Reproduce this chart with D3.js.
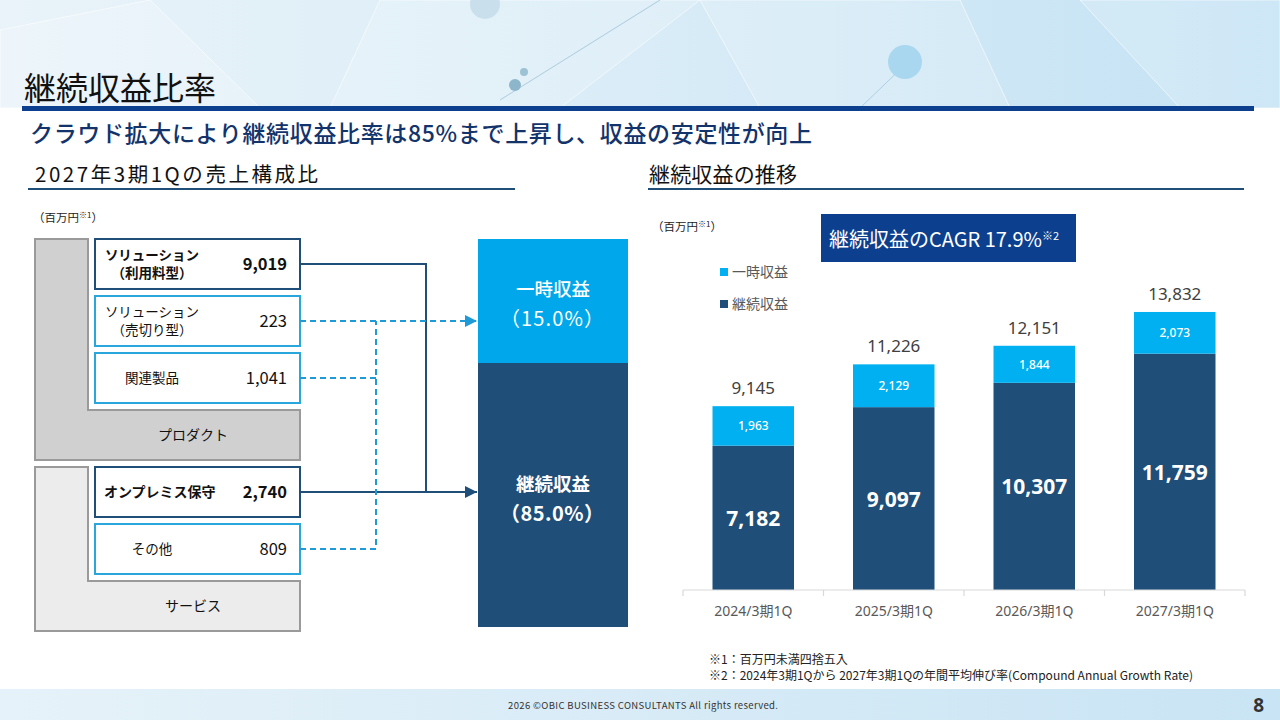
<!DOCTYPE html>
<html><head><meta charset="utf-8">
<script src="https://cdn.jsdelivr.net/npm/d3@7"></script>
<style>
html,body{margin:0;padding:0;background:#fff;}
svg{display:block;font-family:"Noto Sans CJK JP","Noto Sans",sans-serif;}
</style></head>
<body>
<script>
// ---------- DATA ----------
const pageTitle = "継続収益比率";
const subTitle = "クラウド拡大により継続収益比率は85%まで上昇し、収益の安定性が向上";
const leftTitle = "2027年3期1Qの売上構成比";
const rightTitle = "継続収益の推移";
const unitLabel = "（百万円";
const unitNote = "※1";

const itemLabels = [["ソリューション","（利用料型）"],["ソリューション","（売切り型）"],["関連製品"],["オンプレミス保守"],["その他"]];
const itemValues = [9019, 223, 1041, 2740, 809];
const itemTypes  = ["継続","一時","一時","継続","一時"];
const itemRows   = [0, 1, 2, 4, 5];
const groupNames = ["プロダクト","サービス"];
const groupRows  = [3, 6];

const mixNames = ["継続収益","一時収益"];
const mixShares = [85.0, 15.0];

const categories = ["2024/3期1Q","2025/3期1Q","2026/3期1Q","2027/3期1Q"];
const recurring = [7182, 9097, 10307, 11759];
const oneTime   = [1963, 2129, 1844, 2073];
const seriesNames = ["一時収益","継続収益"];
const cagrText = "継続収益のCAGR 17.9%";
const footnotes = ["※1：百万円未満四捨五入","※2：2024年3期1Qから 2027年3期1Qの年間平均伸び率(Compound Annual Growth Rate)"];
const copyright = "2026  ©OBIC BUSINESS CONSULTANTS All rights reserved.";
const pageNo = "8";

// ---------- SETUP ----------
const W = 1280, H = 720;
const DARK = "#1f4e79", LIGHT = "#00a7ea", LIGHT2 = "#00b0f0", NAVY = "#0c3f8e";
const fmt = d3.format(",");
const svg = d3.select("body").append("svg").attr("width", W).attr("height", H);
const defs = svg.append("defs");

// header background
const hg = defs.append("linearGradient").attr("id","hg").attr("x1","0").attr("x2","1").attr("y1","0").attr("y2","0");
hg.append("stop").attr("offset","0").attr("stop-color","#e9f3f9");
hg.append("stop").attr("offset","0.5").attr("stop-color","#d9ecf7");
hg.append("stop").attr("offset","1").attr("stop-color","#c4e2f4");
svg.append("rect").attr("x",0).attr("y",0).attr("width",W).attr("height",108).attr("fill","url(#hg)");
const polys = [
  [[380,0],[700,0],[560,108],[330,108]],
  [[700,0],[960,0],[1010,108],[760,108]],
  [[1080,0],[1280,0],[1280,108],[1180,108]],
  [[0,30],[150,0],[260,108],[0,108]]
];
svg.append("g").selectAll("path").data(polys).join("path")
  .attr("d", d => "M" + d.join("L") + "Z")
  .attr("fill","#ffffff").attr("fill-opacity",0.18)
  .attr("stroke","#ffffff").attr("stroke-opacity",0.6).attr("stroke-width",1);
svg.append("line").attr("x1",500).attr("y1",100).attr("x2",660).attr("y2",0).attr("stroke","#9fc3d6").attr("stroke-width",0.8);
svg.append("line").attr("x1",860).attr("y1",108).attr("x2",910).attr("y2",60).attr("stroke","#9fc8e0").attr("stroke-width",0.8);
const circles = [[905,62,17,"#a9d7f0"],[515,85,6,"#8db6ca"],[524,72,4,"#9cc2d4"],[485,4,15,"#c9e0ec"],[655,25,5,"#e0eef6"]];
svg.append("g").selectAll("circle").data(circles).join("circle")
  .attr("cx",d=>d[0]).attr("cy",d=>d[1]).attr("r",d=>d[2]).attr("fill",d=>d[3]);

// title
svg.append("text").attr("x",24).attr("y",100).attr("font-size",32).attr("fill","#111").text(pageTitle);
svg.append("rect").attr("x",22).attr("y",106).attr("width",1232).attr("height",5).attr("fill",NAVY);
svg.append("text").attr("x",30).attr("y",142).attr("font-size",23).attr("font-weight",500).attr("fill","#13336b")
  .attr("textLength",782).attr("lengthAdjust","spacing").text(subTitle);

// section titles
svg.append("text").attr("x",35).attr("y",182).attr("font-size",20.5).attr("fill","#111")
  .attr("textLength",283).attr("lengthAdjust","spacing").text(leftTitle);
svg.append("rect").attr("x",28).attr("y",188).attr("width",487).attr("height",2).attr("fill",DARK);
svg.append("text").attr("x",649).attr("y",182).attr("font-size",21).attr("fill","#111")
  .attr("textLength",148).attr("lengthAdjust","spacing").text(rightTitle);
svg.append("rect").attr("x",648).attr("y",188).attr("width",596).attr("height",2).attr("fill",DARK);

function unit(x, y) {
  const t = svg.append("text").attr("x",x).attr("y",y).attr("font-size",11.5).attr("fill","#222");
  t.append("tspan").text(unitLabel);
  t.append("tspan").attr("font-size",8).attr("dy",-4).text(unitNote);
  t.append("tspan").attr("dy",4).text("）");
}

// ---------- LEFT DIAGRAM ----------
unit(33, 222);
const rowY = d3.scaleBand().domain(d3.range(7)).range([239, 631]).paddingInner(0.123).paddingOuter(0);
const bx0 = 95, bx1 = 300, lx0 = 35, lx1 = 88;
const gTop = [rowY(0), rowY(4)];
const gFill = ["#d0d0d0", "#ececec"];
groupNames.forEach((g, i) => {
  const top = gTop[i], bot = rowY(groupRows[i]) + rowY.bandwidth(), mid = rowY(groupRows[i]);
  svg.append("path")
    .attr("d", `M${lx0},${top}H${lx1}V${mid}H${bx1}V${bot}H${lx0}Z`)
    .attr("fill", gFill[i]).attr("stroke","#9a9a9a").attr("stroke-width",2);
  svg.append("text").attr("x",193).attr("y",mid + rowY.bandwidth()/2 + 5)
    .attr("text-anchor","middle").attr("font-size",14).attr("fill","#111").text(g);
});
itemLabels.forEach((lab, i) => {
  const y = rowY(itemRows[i]), h = rowY.bandwidth();
  const rec = itemTypes[i] === "継続";
  svg.append("rect").attr("x",bx0).attr("y",y).attr("width",bx1-bx0).attr("height",h)
    .attr("fill","#fff").attr("stroke", rec ? DARK : "#29a7dd").attr("stroke-width",2);
  const bold = rec ? 700 : 400;
  const long = lab[0].length > 7;
  lab.forEach((t, k) => {
    svg.append("text")
      .attr("x", long ? 104 : 152).attr("text-anchor", long ? "start" : "middle")
      .attr("y", y + h/2 + 5 + (lab.length > 1 ? (k === 0 ? -9 : 9) : 0))
      .attr("font-size", long ? 14 : 13.5).attr("font-weight",bold).attr("fill","#111").text(t);
  });
  svg.append("text").attr("x",287).attr("y",y + h/2 + 6).attr("text-anchor","end")
    .attr("font-family","'Noto Sans CJK JP',sans-serif")
    .attr("font-size",16.5).attr("font-weight",bold).attr("fill","#111").text(fmt(itemValues[i]));
});

// mix stacked block
const mixY = d3.scaleLinear().domain([0, 85, 100]).range([627, 363, 239]);
const mx0 = 478, mx1 = 628;
let acc = 0;
const mixSegs = mixShares.map((v, i) => { const s = {name: mixNames[i], v, y0: acc, y1: acc + v}; acc += v; return s; });
svg.append("g").selectAll("rect").data(mixSegs).join("rect")
  .attr("x", mx0).attr("width", mx1 - mx0)
  .attr("y", d => mixY(d.y1)).attr("height", d => mixY(d.y0) - mixY(d.y1))
  .attr("fill", (d,i) => i === 0 ? DARK : LIGHT);
mixSegs.forEach((d, i) => {
  const cy = i === 0 ? 485 : 290;
  svg.append("text").attr("x",(mx0+mx1)/2).attr("y",cy + 6).attr("text-anchor","middle")
    .attr("font-size",18.5).attr("font-weight", i===0?700:500).attr("fill","#fff").text(d.name);
  svg.append("text").attr("x",(mx0+mx1)/2 - 1).attr("y",cy + 36).attr("text-anchor","middle")
    .attr("font-size",20).attr("font-weight", i===0?600:400).attr("fill","#fff")
    .attr("textLength",104).attr("lengthAdjust","spacing").text("（" + d.v.toFixed(1) + "%）");
});

// connectors
const cy = i => rowY(itemRows[i]) + rowY.bandwidth()/2;
defs.append("marker").attr("id","arD").attr("viewBox","0 0 10 10").attr("refX",10).attr("refY",5)
  .attr("markerWidth",12).attr("markerHeight",12).attr("markerUnits","userSpaceOnUse").attr("orient","auto")
  .append("path").attr("d","M0,0L10,5L0,10Z").attr("fill",DARK);
defs.append("marker").attr("id","arL").attr("viewBox","0 0 10 10").attr("refX",10).attr("refY",5)
  .attr("markerWidth",12).attr("markerHeight",12).attr("markerUnits","userSpaceOnUse").attr("orient","auto")
  .append("path").attr("d","M0,0L10,5L0,10Z").attr("fill","#1e9bd7");
const solidX = 426, dashX = 376;
svg.append("path").attr("d",`M${bx1},${cy(0)}H${solidX}V${cy(3)}`).attr("fill","none").attr("stroke",DARK).attr("stroke-width",2);
svg.append("path").attr("d",`M${bx1},${cy(3)}H${mx0-1}`).attr("fill","none").attr("stroke",DARK).attr("stroke-width",2).attr("marker-end","url(#arD)");
const dashStyle = sel => sel.attr("fill","none").attr("stroke","#1e9bd7").attr("stroke-width",2).attr("stroke-dasharray","6,4");
dashStyle(svg.append("path").attr("d",`M${bx1},${cy(1)}H${mx0-1}`)).attr("marker-end","url(#arL)");
dashStyle(svg.append("path").attr("d",`M${bx1},${cy(2)}H${dashX}`));
dashStyle(svg.append("path").attr("d",`M${bx1},${cy(4)}H${dashX}V${cy(1)}`));

// ---------- RIGHT CHART ----------
unit(652, 231);
svg.append("rect").attr("x",821).attr("y",214).attr("width",255).attr("height",48).attr("fill",NAVY);
const ct = svg.append("text").attr("x",829).attr("y",247).attr("font-size",20).attr("fill","#fff");
ct.append("tspan").text(cagrText);
ct.append("tspan").attr("font-size",11).attr("dy",-7).text("※2");

const legColors = [LIGHT2, DARK];
seriesNames.forEach((s, i) => {
  const y = 272 + i*32;
  svg.append("rect").attr("x",720).attr("y",y - 4).attr("width",8).attr("height",8).attr("fill",legColors[i]);
  svg.append("text").attr("x",732).attr("y",y + 5).attr("font-size",14).attr("fill","#595959").text(s);
});

const x = d3.scaleBand().domain(categories).range([683, 1245]).paddingInner(0.42).paddingOuter(0.21);
const y = d3.scaleLinear().domain([0, 14000]).range([590, 308.6]);
const stackData = categories.map((c, i) => ({cat: c, rec: recurring[i], one: oneTime[i], total: recurring[i] + oneTime[i]}));
const g = svg.append("g");
g.selectAll("rect.rec").data(stackData).join("rect").attr("class","rec")
  .attr("x", d => x(d.cat)).attr("width", x.bandwidth())
  .attr("y", d => y(d.rec)).attr("height", d => y(0) - y(d.rec)).attr("fill", DARK);
g.selectAll("rect.one").data(stackData).join("rect").attr("class","one")
  .attr("x", d => x(d.cat)).attr("width", x.bandwidth())
  .attr("y", d => y(d.total)).attr("height", d => y(d.rec) - y(d.total)).attr("fill", LIGHT2);
const numFont = "'Noto Sans','Noto Sans CJK JP',sans-serif";
g.selectAll("text.rec").data(stackData).join("text").attr("class","rec")
  .attr("x", d => x(d.cat) + x.bandwidth()/2).attr("y", d => (y(d.rec) + y(0))/2 + 8)
  .attr("text-anchor","middle").attr("font-family",numFont).attr("font-size",21).attr("font-weight",700)
  .attr("fill","#fff").text(d => fmt(d.rec));
g.selectAll("text.one").data(stackData).join("text").attr("class","one")
  .attr("x", d => x(d.cat) + x.bandwidth()/2).attr("y", d => (y(d.rec) + y(d.total))/2 + 4.5)
  .attr("text-anchor","middle").attr("font-family",numFont).attr("font-size",12).attr("font-weight",500)
  .attr("fill","#fff").text(d => fmt(d.one));
g.selectAll("text.tot").data(stackData).join("text").attr("class","tot")
  .attr("x", d => x(d.cat) + x.bandwidth()/2).attr("y", d => y(d.total) - 12)
  .attr("text-anchor","middle").attr("font-family",numFont).attr("font-size",17)
  .attr("fill","#404040").text(d => fmt(d.total));

// axis
const axisG = svg.append("g").attr("transform","translate(0,590)");
axisG.append("line").attr("x1",683).attr("x2",1245).attr("stroke","#d9d9d9").attr("stroke-width",1.2);
const bounds = categories.map(c => x(c) - x.step()*x.paddingInner()/2).concat([1245]);
bounds[0] = 683;
axisG.selectAll("line.tk").data(bounds).join("line").attr("class","tk")
  .attr("x1", d => d).attr("x2", d => d).attr("y1",0).attr("y2",6).attr("stroke","#d9d9d9").attr("stroke-width",1.2);
axisG.selectAll("text").data(categories).join("text")
  .attr("x", d => x(d) + x.bandwidth()/2).attr("y", 26).attr("text-anchor","middle")
  .attr("font-family",numFont).attr("font-size",14).attr("fill","#595959").text(d => d);

// footnotes
footnotes.forEach((t, i) => {
  svg.append("text").attr("x",709).attr("y",664 + i*16).attr("font-size",12).attr("fill","#222").text(t);
});

// footer
const fg = defs.append("linearGradient").attr("id","fg").attr("x1","0").attr("x2","1");
fg.append("stop").attr("offset","0").attr("stop-color","#e6f2f9");
fg.append("stop").attr("offset","1").attr("stop-color","#c9e4f4");
svg.append("rect").attr("x",0).attr("y",689).attr("width",W).attr("height",31).attr("fill","url(#fg)");
svg.append("text").attr("x",508).attr("y",709).attr("font-size",9.5).attr("fill","#333")
  .attr("textLength",270).attr("lengthAdjust","spacing").text(copyright);
svg.append("text").attr("x",1264).attr("y",712).attr("text-anchor","end").attr("font-family",numFont).attr("font-size",19).attr("font-weight",700).attr("fill","#333").text(pageNo);
</script>
</body></html>
